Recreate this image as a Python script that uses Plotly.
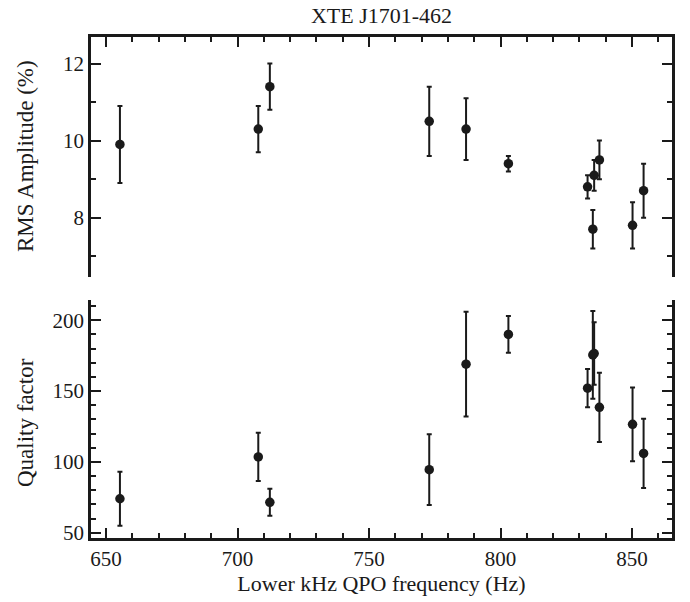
import plotly.graph_objects as go

freq = [655.3, 707.9, 712.3, 772.9, 786.9, 803.0, 833.1, 835.1, 835.6, 837.6, 850.2, 854.4]
rms = [9.9, 10.3, 11.4, 10.5, 10.3, 9.4, 8.8, 7.7, 9.1, 9.5, 7.8, 8.7]
rms_err = [1.0, 0.6, 0.6, 0.9, 0.8, 0.2, 0.3, 0.5, 0.4, 0.5, 0.6, 0.7]
qf = [74, 103.5, 71.5, 94.5, 169, 190, 152, 175.5, 176.5, 138.5, 126.5, 106]
qf_err = [19, 17, 9.5, 25, 37, 13, 13.5, 31, 22, 24.5, 26, 24.5]

FONT = "Liberation Serif"
INK = "#1a1a1a"
W, H = 690, 602
ML, MR, MT, MB = 91, 18, 37, 64
PW, PH = W - ML - MR, H - MT - MB

fig = go.Figure()
fig.add_trace(go.Scatter(
    x=freq, y=rms, mode="markers", xaxis="x2", yaxis="y2",
    marker=dict(color=INK, size=9.5),
    error_y=dict(type="data", array=rms_err, visible=True, color=INK, thickness=2, width=2.5),
    showlegend=False))
fig.add_trace(go.Scatter(
    x=freq, y=qf, mode="markers", xaxis="x", yaxis="y",
    marker=dict(color=INK, size=9.5),
    error_y=dict(type="data", array=qf_err, visible=True, color=INK, thickness=2, width=2.5),
    showlegend=False))

axis_common = dict(showline=True, linecolor=INK, linewidth=2.5, ticks="inside",
                   tickcolor=INK, tickwidth=2, ticklen=10, showgrid=False, zeroline=False,
                   automargin=False,
                   tickfont=dict(family=FONT, size=21, color=INK))
TITLE_FONT = dict(family=FONT, size=22, color=INK)

fig.update_layout(
    width=W, height=H,
    margin=dict(l=ML, r=MR, t=MT, b=MB),
    paper_bgcolor="white", plot_bgcolor="white",
    font=dict(family=FONT, color=INK),
    title=dict(text="XTE J1701-462", x=0.5, xref="paper", y=1 - 15 / H, yanchor="middle",
               font=dict(family=FONT, size=22, color=INK)),
    xaxis=dict(**axis_common, domain=[0, 1], range=[644.3, 865.2], anchor="y",
               dtick=50, tick0=650,
               minor=dict(ticks="inside", ticklen=5, dtick=10, tickcolor=INK, tickwidth=2),
               title=dict(text="Lower kHz QPO frequency (Hz)", font=TITLE_FONT, standoff=4)),
    yaxis=dict(**axis_common, domain=[0, 0.476], range=[46.3, 214.6], anchor="x",
               mirror="ticks", dtick=50, tick0=0,
               minor=dict(ticks="inside", ticklen=5, dtick=10, tickcolor=INK, tickwidth=2)),
    xaxis2=dict(**axis_common, domain=[0, 1], range=[644.3, 865.2], anchor="y2",
                side="top", matches="x", showticklabels=False, dtick=50, tick0=650,
                minor=dict(ticks="inside", ticklen=5, dtick=10, tickcolor=INK, tickwidth=2)),
    yaxis2=dict(**axis_common, domain=[0.521, 1], range=[6.46, 12.69], anchor="x2",
                mirror="ticks", dtick=2, tick0=0,
                minor=dict(ticks="inside", ticklen=5, dtick=1, tickcolor=INK, tickwidth=2)),
)

fig.add_annotation(text="RMS Amplitude (%)", textangle=-90, showarrow=False,
                   xref="paper", yref="paper", x=(25.5 - ML) / PW, y=(H - MB - 156.5) / PH,
                   xanchor="center", yanchor="middle", font=dict(family=FONT, size=23, color=INK))
fig.add_annotation(text="Quality factor", textangle=-90, showarrow=False,
                   xref="paper", yref="paper", x=(25.5 - ML) / PW, y=(H - MB - 422.5) / PH,
                   xanchor="center", yanchor="middle", font=dict(family=FONT, size=23, color=INK))

fig.write_html("out.html", config={"displayModeBar": False},
               post_script="document.body.style.margin='0';")
